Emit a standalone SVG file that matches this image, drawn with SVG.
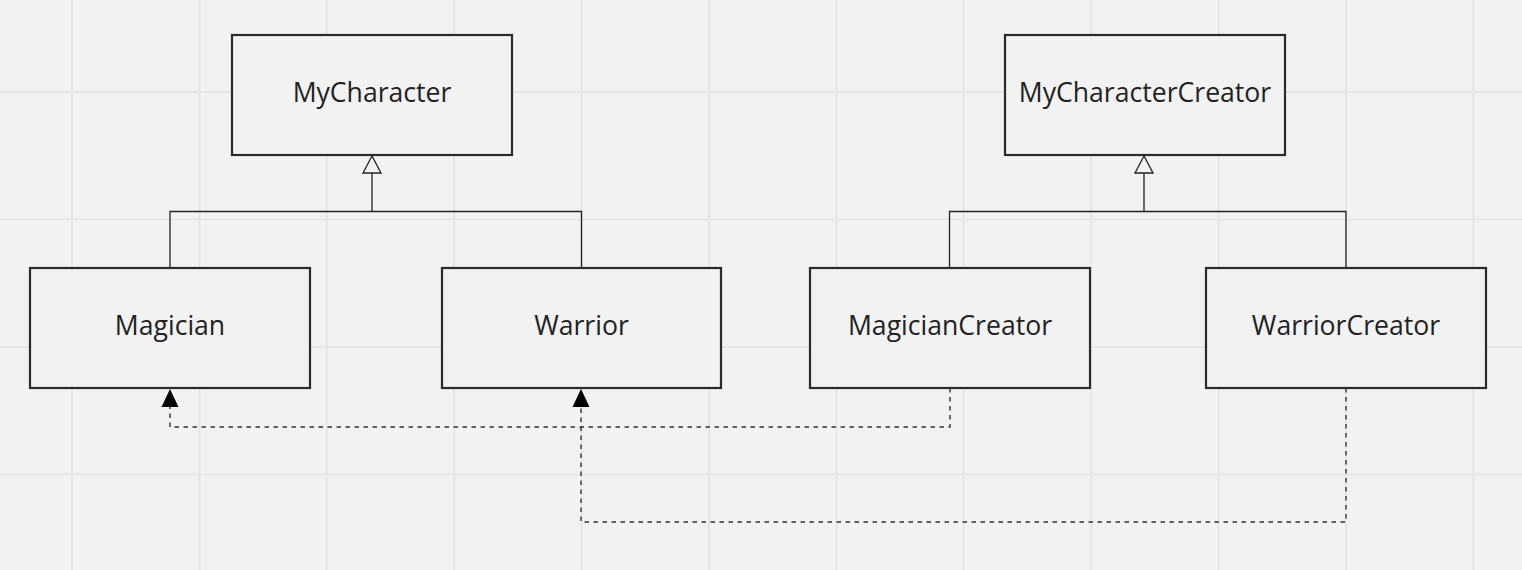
<svg xmlns="http://www.w3.org/2000/svg" width="1522" height="570" viewBox="0 0 1522 570">
<style>
.grid line{stroke:#e6e6e6;stroke-width:2}
.box{fill:#f2f2f2;stroke:#2b2b2b;stroke-width:2.2}
.lbl{font-family:"Open Sans",sans-serif;font-size:26.6px;fill:#222;text-anchor:middle}
.solid{fill:none;stroke:#222;stroke-width:1.3}
.dash{fill:none;stroke:#333;stroke-width:1.4;stroke-dasharray:4.5 4.5}
</style>
<rect width="1522" height="570" fill="#f2f2f2"/>
<g class="grid">
<line x1="72" y1="0" x2="72" y2="570"/>
<line x1="199.4" y1="0" x2="199.4" y2="570"/>
<line x1="326.8" y1="0" x2="326.8" y2="570"/>
<line x1="454.2" y1="0" x2="454.2" y2="570"/>
<line x1="581.6" y1="0" x2="581.6" y2="570"/>
<line x1="709" y1="0" x2="709" y2="570"/>
<line x1="836.4" y1="0" x2="836.4" y2="570"/>
<line x1="963.8" y1="0" x2="963.8" y2="570"/>
<line x1="1091.2" y1="0" x2="1091.2" y2="570"/>
<line x1="1218.6" y1="0" x2="1218.6" y2="570"/>
<line x1="1346" y1="0" x2="1346" y2="570"/>
<line x1="1473.4" y1="0" x2="1473.4" y2="570"/>
<line x1="0" y1="92" x2="1522" y2="92"/>
<line x1="0" y1="219.5" x2="1522" y2="219.5"/>
<line x1="0" y1="347" x2="1522" y2="347"/>
<line x1="0" y1="474.5" x2="1522" y2="474.5"/>
</g>
<g id="connectors">
<path class="solid" d="M170 268V211.5H581.5V268M372 211.5V173"/>
<polygon points="372,156 363,173 381,173" fill="#f2f2f2" stroke="#222" stroke-width="1.3"/>
<path class="solid" d="M949.5 268V211.5H1346V268M1144 211.5V173"/>
<polygon points="1144,156 1135,173 1153,173" fill="#f2f2f2" stroke="#222" stroke-width="1.3"/>
<path class="dash" d="M950 388V427H170V407"/>
<polygon points="170,389 161.5,407 178.5,407" fill="#000"/>
<path class="dash" d="M1346 388V522H581V407"/>
<polygon points="581,389 572.5,407 589.5,407" fill="#000"/>
</g>
<g id="MyCharacter"><rect class="box" x="232" y="35" width="280" height="120"/><text class="lbl" x="372" y="101.5">MyCharacter</text></g>
<g id="MyCharacterCreator"><rect class="box" x="1005" y="35" width="280" height="120"/><text class="lbl" x="1145" y="101.5">MyCharacterCreator</text></g>
<g id="Magician"><rect class="box" x="30" y="268" width="280" height="120"/><text class="lbl" x="170" y="335">Magician</text></g>
<g id="Warrior"><rect class="box" x="442" y="268" width="279" height="120"/><text class="lbl" x="581.5" y="335">Warrior</text></g>
<g id="MagicianCreator"><rect class="box" x="810" y="268" width="280" height="120"/><text class="lbl" x="950" y="335">MagicianCreator</text></g>
<g id="WarriorCreator"><rect class="box" x="1206" y="268" width="280" height="120"/><text class="lbl" x="1346" y="335">WarriorCreator</text></g>
</svg>
